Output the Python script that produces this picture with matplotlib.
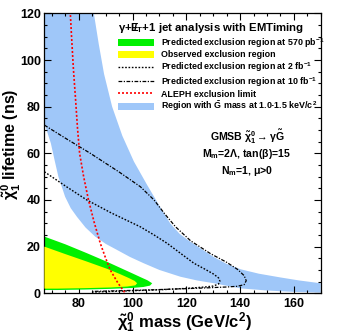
import matplotlib
matplotlib.use("Agg")
import matplotlib.pyplot as plt
from matplotlib.lines import Line2D
from matplotlib.patches import Patch

# --- data (mass in GeV/c^2, lifetime in ns) ---
band_inner_m = [67.2, 68.3, 69.6, 71.0, 72.4, 74.9, 77.0, 79.3, 82.5, 86.1, 90.0, 94.2,
                99.0, 104.1, 110.0, 117.8, 124.0, 130.3, 140.2, 150.0, 160.0, 170.0]
band_inner_t = [73.0, 69.0, 64.3, 57.0, 50.0, 41.4, 36.5, 32.8, 28.2, 24.3, 21.2, 18.6,
                15.6, 12.9, 10.0, 7.1, 5.5, 4.3, 2.1, 1.2, 0.6, 0.3]
band_outer_m = [85.6, 87.4, 89.4, 92.4, 96.2, 100.5, 105.4, 110.0, 114.0, 117.5, 121.0,
                125.0, 130.3, 135.0, 140.2, 147.0, 155.0, 162.0, 170.0]
band_outer_t = [120.0, 107.0, 94.0, 80.0, 67.5, 56.5, 46.5, 37.5, 30.0, 25.5, 22.5,
                19.5, 15.5, 12.6, 10.3, 8.4, 6.8, 5.5, 4.3]

pred570_m = [67.2, 75.0, 83.0, 90.5, 96.0, 100.0, 103.0, 105.5, 107.3, 106.5, 104.0, 100.0,
             92.0, 82.0, 72.0, 67.2]
pred570_t = [24.3, 21.0, 17.2, 13.5, 10.6, 8.5, 6.9, 5.6, 4.3, 3.3, 2.7, 2.3,
             1.9, 1.6, 1.4, 1.4]

obs_m = [67.2, 75.0, 83.0, 90.5, 95.0, 98.5, 100.8, 101.7, 101.0, 98.0, 92.0, 82.0, 72.0, 67.2]
obs_t = [20.0, 16.8, 13.6, 10.5, 8.4, 6.6, 5.3, 4.3, 3.4, 2.9, 2.5, 2.2, 2.0, 2.0]

pred2_m = [67.2, 75.0, 83.0, 92.0, 102.9, 108.0, 112.9, 118.0, 122.8, 127.0, 130.2, 132.0,
           132.5, 132.0, 130.0, 127.0, 120.0, 110.0, 100.0, 90.0, 85.0]
pred2_t = [52.1, 46.0, 40.0, 34.5, 28.5, 25.0, 21.4, 17.0, 12.9, 10.3, 8.2, 6.6,
           5.2, 4.0, 3.1, 2.7, 2.1, 1.5, 1.1, 0.7, 0.5]

pred10_m = [67.2, 75.0, 84.3, 95.0, 102.9, 108.0, 112.0, 116.0, 121.6, 129.0, 135.0, 139.0,
            141.5, 142.3, 141.5, 139.0, 135.0, 125.0, 115.0, 105.0, 95.0, 85.0]
pred10_t = [72.1, 66.5, 60.0, 52.0, 45.7, 40.0, 34.0, 28.5, 22.5, 17.0, 13.3, 10.3,
            7.6, 5.4, 3.7, 3.0, 2.7, 2.2, 1.8, 1.4, 1.1, 0.8]

aleph_m = [76.8, 77.3, 78.0, 78.8, 79.5, 80.3, 81.8, 83.6, 85.7, 88.0, 90.0, 91.7, 94.5, 97.3]
aleph_t = [121.0, 110.0, 96.0, 83.0, 71.0, 60.0, 50.0, 40.0, 30.5, 21.4, 15.0, 10.0, 4.5, 0.0]

xlim = (67.2, 170.0)
ylim = (0.0, 120.0)

BLUE = "#9fc7f9"
GREEN = "#00f000"
YELLOW = "#ffff00"

plt.rcParams["font.family"] = ["Liberation Sans", "DejaVu Sans"]
plt.rcParams["font.weight"] = "bold"
plt.rcParams["mathtext.fontset"] = "custom"
plt.rcParams["mathtext.rm"] = "Liberation Sans:bold"
plt.rcParams["mathtext.it"] = "Liberation Sans:bold"
plt.rcParams["mathtext.bf"] = "Liberation Sans:bold"

fig = plt.figure(figsize=(3.39, 3.35), dpi=100)
ax = fig.add_axes([0.131, 0.1245, 0.815, 0.8355])

# blue band: inner edge, then outer edge back up, closed along the top-left corner
band_m = band_inner_m + band_outer_m[::-1] + [xlim[0]]
band_t = band_inner_t + band_outer_t[::-1] + [ylim[1]]
ax.fill(band_m, band_t, color=BLUE, lw=0, zorder=1)
ax.fill(pred570_m, pred570_t, color=GREEN, lw=0, zorder=2)
ax.fill(obs_m, obs_t, color=YELLOW, lw=0, zorder=3)

DOT = (0, (1.2, 1.2))
DASHDOT = (0, (3, 1.2, 1, 1.2))
ax.plot(pred2_m, pred2_t, color="black", lw=1.0, ls=DOT, zorder=4)
ax.plot(pred10_m, pred10_t, color="black", lw=0.9, ls=DASHDOT, zorder=4)
ax.plot(aleph_m, aleph_t, color="red", lw=1.2, ls=DOT, zorder=5)

ax.set_xlim(*xlim)
ax.set_ylim(*ylim)
ax.set_xticks([80, 100, 120, 140, 160])
ax.set_xticks(range(70, 171, 5), minor=True)
ax.set_yticks([0, 20, 40, 60, 80, 100, 120])
ax.set_yticks(range(0, 121, 5), minor=True)
ax.tick_params(which="both", direction="in", top=True, right=True, width=0.8,
               labelsize=9)
ax.tick_params(which="major", length=4.8)
ax.tick_params(which="minor", length=2.4)
ax.tick_params(axis="x", pad=3.5)
ax.tick_params(axis="y", pad=2.5)
for lab in ax.get_xticklabels() + ax.get_yticklabels():
    lab.set_fontweight("bold")
for s in ax.spines.values():
    s.set_linewidth(0.9)

ax.set_xlabel(r"$\tilde{\chi}^{0}_{1}$ mass (GeV/c$^{2}$)", fontsize=12,
              fontweight="bold", x=0.751, ha="right", labelpad=0)
ax.set_ylabel(r"$\tilde{\chi}^{0}_{1}$ lifetime (ns)", fontsize=11.5,
              fontweight="bold", y=0.733, ha="right", labelpad=-2)

handles = [
    Patch(color=GREEN, lw=0),
    Patch(color=YELLOW, lw=0),
    Line2D([], [], color="black", lw=1.0, ls=DOT),
    Line2D([], [], color="black", lw=0.9, ls=DASHDOT),
    Line2D([], [], color="red", lw=1.2, ls=DOT),
    Patch(color=BLUE, lw=0),
]
labels = [
    r"Predicted exclusion region at 570 pb$^{-1}$",
    "Observed exclusion region",
    r"Predicted exclusion region at 2 fb$^{-1}$",
    r"Predicted exclusion region at 10 fb$^{-1}$",
    "ALEPH exclusion limit",
    r"Region with $\tilde{G}$ mass at 1.0-1.5 keV/c$^{2}$",
]
leg = ax.legend(handles, labels, loc="upper left", bbox_to_anchor=(0.245, 0.995),
                frameon=False, prop={"size": 6.4, "weight": "bold"},
                handlelength=4.0, handleheight=0.9, handletextpad=0.8,
                labelspacing=0.1, borderpad=0.2,
                title=r"$\gamma$+$E\!\!\!/_{T}$+1 jet analysis with EMTiming",
                title_fontproperties={"size": 8.2, "weight": "bold"},
                alignment="left")
leg.set_zorder(6)

ax.text(0.733, 0.558, r"GMSB $\tilde{\chi}^{0}_{1}\rightarrow\gamma\tilde{G}$",
        transform=ax.transAxes, ha="center", va="center", fontsize=7.6, fontweight="bold")
ax.text(0.733, 0.4975, r"M$_{m}$=2$\Lambda$, tan($\beta$)=15",
        transform=ax.transAxes, ha="center", va="center", fontsize=7.6, fontweight="bold")
ax.text(0.733, 0.437, r"N$_{m}$=1, $\mu$>0",
        transform=ax.transAxes, ha="center", va="center", fontsize=7.6, fontweight="bold")

fig.savefig("out.png", dpi=100)
